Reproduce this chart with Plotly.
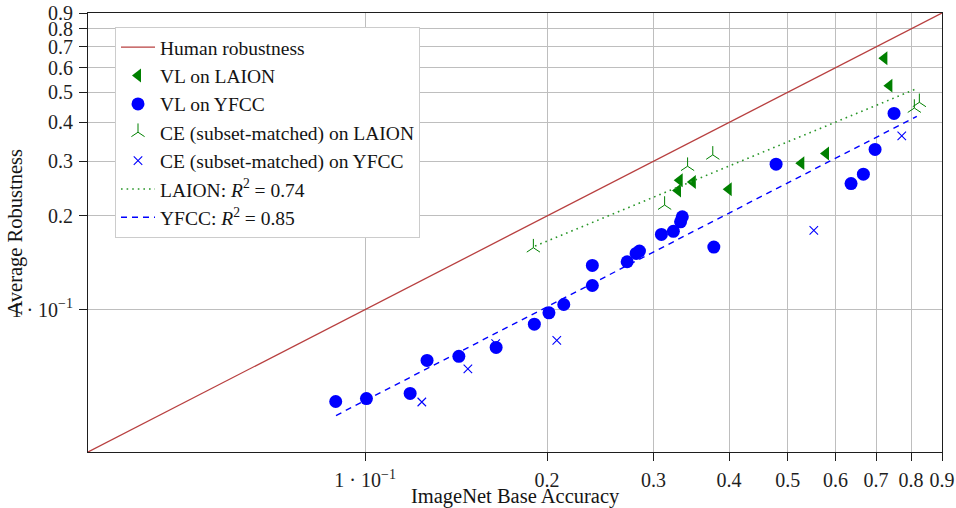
import numpy as np
import plotly.graph_objects as go

# ---- data ----
human_x = [0.0348, 0.9]
human_y = [0.0348, 0.9]

vl_laion_x = [0.7226, 0.7366, 0.5786, 0.5266, 0.3994, 0.3484, 0.3314, 0.3293]
vl_laion_y = [0.6438, 0.5252, 0.3178, 0.2958, 0.2438, 0.2573, 0.2606, 0.2415]

vl_yfcc_x = [0.0894, 0.1005, 0.1187, 0.1266, 0.1429, 0.1647, 0.1905, 0.2014,
             0.2131, 0.2376, 0.2376, 0.2713, 0.2807, 0.2843, 0.3091, 0.3235,
             0.3325, 0.3347, 0.3774, 0.4784, 0.6365, 0.6671, 0.6975, 0.7497]
vl_yfcc_y = [0.0506, 0.0517, 0.0537, 0.0686, 0.0707, 0.0755, 0.0897, 0.0976,
             0.1038, 0.1195, 0.1387, 0.1425, 0.1516, 0.1542, 0.1745, 0.1785,
             0.1915, 0.1988, 0.1589, 0.2936, 0.2543, 0.2726, 0.3274, 0.4278]

ce_laion_x = [0.1898, 0.3129, 0.3415, 0.3759, 0.8100, 0.8256]
ce_laion_y = [0.1581, 0.2169, 0.2892, 0.3145, 0.4450, 0.4643]

ce_yfcc_x = [0.1241, 0.1479, 0.1644, 0.2075, 0.5523, 0.7721]
ce_yfcc_y = [0.0504, 0.0644, 0.0777, 0.0796, 0.1798, 0.3622]

fit_laion_x = [0.191, 0.8215]
fit_laion_y = [0.160, 0.516]

fit_yfcc_x = [0.0895, 0.8176]
fit_yfcc_y = [0.0456, 0.4183]

tick_vals = [0.1, 0.2, 0.3, 0.4, 0.5, 0.6, 0.7, 0.8, 0.9]
x_tick_text = ["1 · 10<sup>−1</sup>", "0.2", "0.3", "0.4", "0.5", "0.6", "0.7", "0.8", "0.9"]
y_tick_text = ["1 · 10<sup>−1</sup>", "0.2", "0.3", "0.4", "0.5", "0.6", "0.7", "0.8", "0.9"]

FONT = "Liberation Serif"
GREEN = "rgb(0,128,0)"
BLUE = "rgb(0,0,255)"

fig = go.Figure()
fig.add_trace(go.Scatter(x=human_x, y=human_y, mode="lines", name="Human robustness",
                         line=dict(color="rgb(184,64,64)", width=1.3)))
fig.add_trace(go.Scatter(x=vl_laion_x, y=vl_laion_y, mode="markers", name="VL on LAION",
                         marker=dict(symbol="triangle-left", size=12, color=GREEN,
                                     line=dict(width=0))))
fig.add_trace(go.Scatter(x=vl_yfcc_x, y=vl_yfcc_y, mode="markers", name="VL on YFCC",
                         marker=dict(symbol="circle", size=13, color=BLUE, line=dict(width=0))))
fig.add_trace(go.Scatter(x=ce_laion_x, y=ce_laion_y, mode="markers",
                         name="CE (subset-matched) on LAION",
                         marker=dict(symbol="y-up", size=11, color=GREEN,
                                     line=dict(width=1, color=GREEN))))
fig.add_trace(go.Scatter(x=ce_yfcc_x, y=ce_yfcc_y, mode="markers",
                         name="CE (subset-matched) on YFCC",
                         marker=dict(symbol="x-thin", size=8.5, color=BLUE,
                                     line=dict(width=1.1, color=BLUE))))
fig.add_trace(go.Scatter(x=fit_laion_x, y=fit_laion_y, mode="lines",
                         name="LAION: <i>R</i><sup>2</sup> = 0.74",
                         line=dict(color="rgb(40,150,40)", width=1.6, dash="1.6px,4px")))
fig.add_trace(go.Scatter(x=fit_yfcc_x, y=fit_yfcc_y, mode="lines",
                         name="YFCC: <i>R</i><sup>2</sup> = 0.85",
                         line=dict(color=BLUE, width=1.4, dash="6px,5px")))

rng = [np.log10(0.0348), np.log10(0.9)]
axis_common = dict(type="log", range=rng, tickvals=tick_vals, showgrid=True,
                   gridcolor="rgb(190,190,190)", gridwidth=1, zeroline=False,
                   showline=True, linecolor="rgb(30,30,30)", linewidth=1, mirror=True,
                   ticks="outside", ticklen=8, tickcolor="rgb(30,30,30)", tickwidth=1,
                   automargin=False,
                   tickfont=dict(family=FONT, size=20, color="rgb(30,30,30)"))
fig.update_xaxes(**axis_common, ticktext=x_tick_text, ticklabelstandoff=2)
fig.update_yaxes(**axis_common, ticktext=y_tick_text, ticklabelstandoff=2)

fig.add_annotation(text="ImageNet Base Accuracy", xref="paper", yref="paper",
                   x=0.5, y=-(496.5 - 452) / 439, xanchor="center", yanchor="middle",
                   showarrow=False, font=dict(family=FONT, size=20.5, color="rgb(20,20,20)"))
fig.add_annotation(text="Average Robustness", xref="paper", yref="paper",
                   x=-(88 - 15) / 854, y=0.5, xanchor="center", yanchor="middle",
                   textangle=-90, showarrow=False,
                   font=dict(family=FONT, size=20.5, color="rgb(20,20,20)"))

fig.update_layout(
    width=956, height=508,
    margin=dict(l=88, r=14, t=13, b=56, autoexpand=False),
    paper_bgcolor="white", plot_bgcolor="white",
    font=dict(family=FONT, size=20, color="rgb(20,20,20)"),
    showlegend=True,
    legend=dict(x=(115 - 88) / 854, y=1 - (27 - 13) / 439, xanchor="left", yanchor="top",
                bgcolor="white", bordercolor="rgb(204,204,204)", borderwidth=1,
                font=dict(family=FONT, size=19.5), tracegroupgap=0, itemwidth=34),
)

fig.write_html("out.html", config={"displayModeBar": False},
               post_script="document.body.style.margin='0';document.body.style.overflow='hidden';")
